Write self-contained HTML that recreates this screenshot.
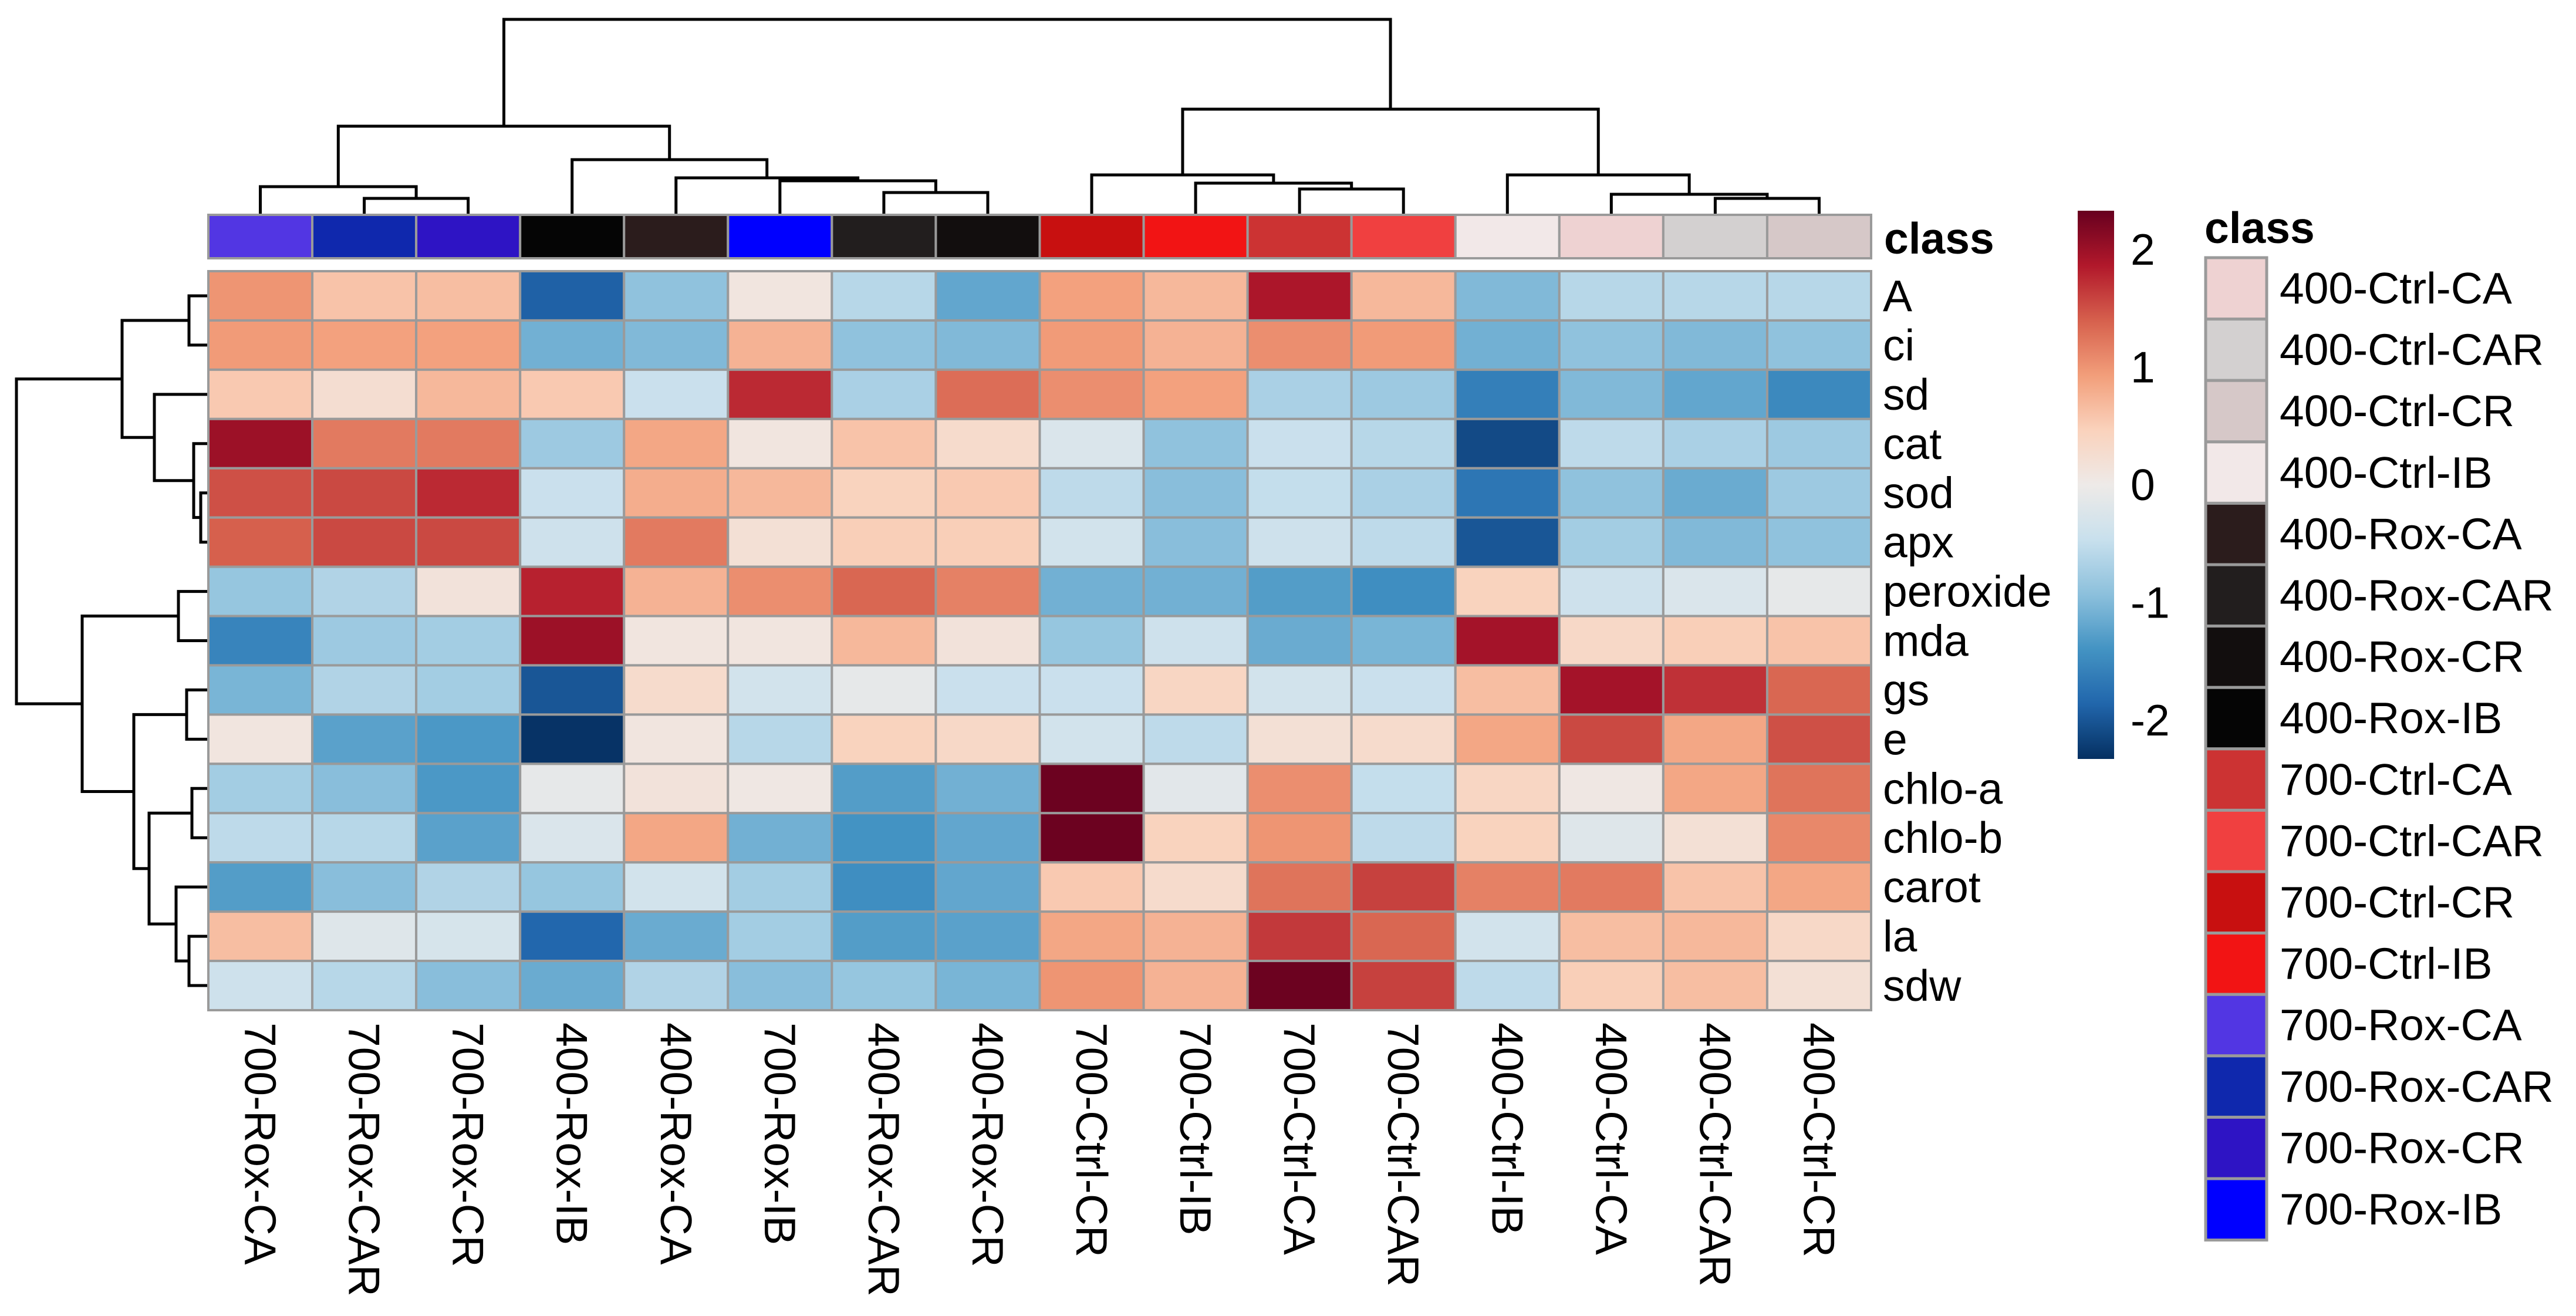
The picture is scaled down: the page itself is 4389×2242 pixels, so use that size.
<!DOCTYPE html>
<html><head><meta charset="utf-8"><style>
html,body{margin:0;padding:0;background:#fff;}
svg{display:block;font-family:"Liberation Sans",Arial,sans-serif;}
</style></head><body>
<svg id="chart" width="4389" height="2242" viewBox="0 0 4389 2242" xmlns="http://www.w3.org/2000/svg"></svg>
<script>
const columns = ["700-Rox-CA","700-Rox-CAR","700-Rox-CR","400-Rox-IB","400-Rox-CA","700-Rox-IB","400-Rox-CAR","400-Rox-CR","700-Ctrl-CR","700-Ctrl-IB","700-Ctrl-CA","700-Ctrl-CAR","400-Ctrl-IB","400-Ctrl-CA","400-Ctrl-CAR","400-Ctrl-CR"];
const rows = ["A","ci","sd","cat","sod","apx","peroxide","mda","gs","e","chlo-a","chlo-b","carot","la","sdw"];
const valA = [1.0,0.6,0.65,-1.9,-0.9,0.1,-0.6,-1.2,0.9,0.7,1.9,0.7,-1.0,-0.6,-0.6,-0.6];
const valCi = [0.95,0.9,0.9,-1.1,-1.0,0.75,-0.9,-1.0,0.95,0.75,1.05,0.95,-1.1,-0.9,-1.0,-0.9];
const valSd = [0.55,0.25,0.7,0.55,-0.45,1.75,-0.7,1.3,1.05,0.9,-0.7,-0.8,-1.6,-1.0,-1.2,-1.5];
const valCat = [2.0,1.2,1.2,-0.8,0.85,0.1,0.6,0.3,-0.25,-0.9,-0.45,-0.6,-2.1,-0.55,-0.7,-0.8];
const valSod = [1.5,1.55,1.75,-0.45,0.8,0.7,0.45,0.55,-0.55,-0.95,-0.5,-0.7,-1.7,-0.9,-1.15,-0.8];
const valApx = [1.4,1.55,1.55,-0.4,1.2,0.2,0.5,0.5,-0.35,-0.95,-0.4,-0.55,-2.0,-0.75,-1.0,-0.9];
const valPeroxide = [-0.85,-0.65,0.15,1.8,0.75,1.05,1.35,1.15,-1.1,-1.1,-1.3,-1.45,0.45,-0.4,-0.25,-0.1];
const valMda = [-1.55,-0.8,-0.75,2.0,0.1,0.1,0.7,0.15,-0.85,-0.4,-1.15,-1.05,1.95,0.35,0.5,0.6];
const valGs = [-1.05,-0.65,-0.75,-2.0,0.3,-0.35,-0.1,-0.45,-0.45,0.4,-0.35,-0.45,0.65,1.95,1.7,1.35];
const valE = [0.1,-1.25,-1.35,-2.3,0.1,-0.6,0.45,0.35,-0.35,-0.55,0.2,0.3,0.85,1.55,0.85,1.5];
const valChloA = [-0.75,-0.95,-1.35,-0.1,0.15,0.05,-1.3,-1.1,2.3,-0.15,1.05,-0.5,0.4,0.05,0.85,1.25];
const valChloB = [-0.55,-0.6,-1.25,-0.25,0.85,-1.1,-1.4,-1.2,2.3,0.45,1.0,-0.55,0.45,-0.2,0.2,1.1];
const valCarot = [-1.3,-0.95,-0.65,-0.85,-0.35,-0.75,-1.45,-1.2,0.55,0.3,1.25,1.6,1.15,1.2,0.6,0.85];
const valLa = [0.65,-0.2,-0.3,-1.85,-1.15,-0.75,-1.3,-1.25,0.85,0.75,1.65,1.35,-0.35,0.65,0.7,0.35];
const valSdw = [-0.4,-0.6,-0.95,-1.15,-0.65,-0.95,-0.85,-1.05,1.0,0.75,2.3,1.6,-0.55,0.5,0.65,0.2];
const values = [valA,valCi,valSd,valCat,valSod,valApx,valPeroxide,valMda,valGs,valE,valChloA,valChloB,valCarot,valLa,valSdw];
const classNames = ["400-Ctrl-CA","400-Ctrl-CAR","400-Ctrl-CR","400-Ctrl-IB","400-Rox-CA","400-Rox-CAR","400-Rox-CR","400-Rox-IB","700-Ctrl-CA","700-Ctrl-CAR","700-Ctrl-CR","700-Ctrl-IB","700-Rox-CA","700-Rox-CAR","700-Rox-CR","700-Rox-IB"];
const classColors = ["#eed2d2","#d3d0d0","#d6c8c8","#f2e8e8","#2b1c1c","#221e1e","#120e0e","#050505","#cc3333","#f04040","#c81010","#f21414","#5236e3","#0f28ad","#2e14c4","#0000ff"];
const colorTicks = [2,1,0,-1,-2];
const colMerges = [[1,2,338],[0,16,318],[6,7,328],[5,18,308],[4,19,303],[3,20,272],[17,21,215],[10,11,322],[9,23,312],[8,24,298],[14,15,338],[13,26,331],[12,27,298],[25,28,186],[22,29,33]];
const rowMerges = [[0,1,322],[4,5,342],[3,16,330],[2,17,263],[15,18,208],[6,7,304],[8,9,318],[10,11,327],[13,14,322],[12,23,300],[22,24,254],[21,25,228],[20,26,140],[19,27,28]];

const svg = document.getElementById('chart');
const NS = 'http://www.w3.org/2000/svg';
function mk(tag, attrs, parent){const e=document.createElementNS(NS,tag);for(const k in attrs)e.setAttribute(k,attrs[k]);(parent||svg).appendChild(e);return e;}

const X0=355, X1=3188, Y0=462, Y1=1721;
const cw=(X1-X0)/columns.length, rh=(Y1-Y0)/rows.length;
const xC = i => X0 + cw*(i+0.5);
const yC = j => Y0 + rh*(j+0.5);
const FS = 75;

const pal=[[-2.33,[5,48,97]],[-1.86,[33,102,172]],[-1.4,[67,147,195]],[-0.93,[140,192,220]],[-0.47,[200,224,237]],[0,[238,234,232]],[0.47,[250,210,188]],[0.93,[242,158,122]],[1.4,[214,96,77]],[1.86,[178,24,43]],[2.33,[103,0,31]]];
function color(v){
  if(v<=pal[0][0]) return 'rgb('+pal[0][1]+')';
  for(let i=1;i<pal.length;i++){ if(v<=pal[i][0]){const t=(v-pal[i-1][0])/(pal[i][0]-pal[i-1][0]);const a=pal[i-1][1],b=pal[i][1];return 'rgb('+a.map((c,k)=>Math.round(c+(b[k]-c)*t)).join(',')+')';}}
  return 'rgb('+pal[pal.length-1][1]+')';
}

const gCells = mk('g',{});


values.forEach((row,j)=>row.forEach((v,i)=>{
  const r=mk('rect',{x:X0+cw*i,y:Y0+rh*j,width:cw,height:rh,fill:color(v),stroke:'#9a9a9a','stroke-width':4},gCells);
  
  
}));

const gBar = mk('g',{});


columns.forEach((c,i)=>{
  const r=mk('rect',{x:X0+cw*i,y:366,width:cw,height:74,fill:classColors[classNames.indexOf(c)],stroke:'#9a9a9a','stroke-width':4},gBar);
  
  
});
const ct=mk('text',{x:3210,y:406,'font-size':FS,'font-weight':'bold','dominant-baseline':'central'});
ct.textContent='class';



rows.forEach((r,j)=>{
  const t=mk('text',{x:3208,y:yC(j),'font-size':FS,'dominant-baseline':'central'});
  t.textContent=r;
  
  
});
columns.forEach((c,i)=>{
  const t=mk('text',{x:0,y:0,'font-size':FS,'dominant-baseline':'central',transform:'translate('+xC(i)+',1742) rotate(90)'});
  t.textContent=c;
  
  
});

const gCD=mk('g',{stroke:'#000','stroke-width':5,fill:'none'});


const cn=columns.map((c,i)=>({x:xC(i),y:364}));
colMerges.forEach(m=>{
  const a=cn[m[0]],b=cn[m[1]],h=m[2];
  mk('path',{d:'M'+a.x+','+a.y+'V'+h+'H'+b.x+'V'+b.y},gCD);
  cn.push({x:(a.x+b.x)/2,y:h});
});
const gRD=mk('g',{stroke:'#000','stroke-width':5,fill:'none'});


const rn=rows.map((r,j)=>({x:353,y:yC(j)}));
rowMerges.forEach(m=>{
  const a=rn[m[0]],b=rn[m[1]],h=m[2];
  mk('path',{d:'M'+a.x+','+a.y+'H'+h+'V'+b.y+'H'+b.x},gRD);
  rn.push({x:h,y:(a.y+b.y)/2});
});

const CB_T=359, CB_B=1293, vTop=2.33, vBot=-2.33;
const cy = v => CB_T + (vTop-v)/(vTop-vBot)*(CB_B-CB_T);
const defs=mk('defs',{});
const lg=mk('linearGradient',{id:'cbg',x1:0,y1:0,x2:0,y2:1},defs);
for(let k=0;k<=40;k++){const v=vTop-(vTop-vBot)*k/40;mk('stop',{offset:(k/40),'stop-color':color(v)},lg);}
const cb=mk('rect',{x:3540,y:CB_T,width:62,height:CB_B-CB_T,fill:'url(#cbg)'});


colorTicks.forEach(v=>{
  const t=mk('text',{x:3630,y:cy(v),'font-size':FS,'dominant-baseline':'central'});
  t.textContent=String(v);
  
  
});

const lt=mk('text',{x:3756,y:388,'font-size':FS,'font-weight':'bold','dominant-baseline':'central'});
lt.textContent='class';


classNames.forEach((c,k)=>{
  const y=439+k*104.6;
  const g=mk('g',{});
  
  
  mk('rect',{x:3758,y:y,width:104,height:104.6,fill:classColors[k],stroke:'#9a9a9a','stroke-width':5},g);
  const t=mk('text',{x:3884,y:y+52,'font-size':FS,'dominant-baseline':'central'},g);
  t.textContent=c;
});
</script>
</body></html>
